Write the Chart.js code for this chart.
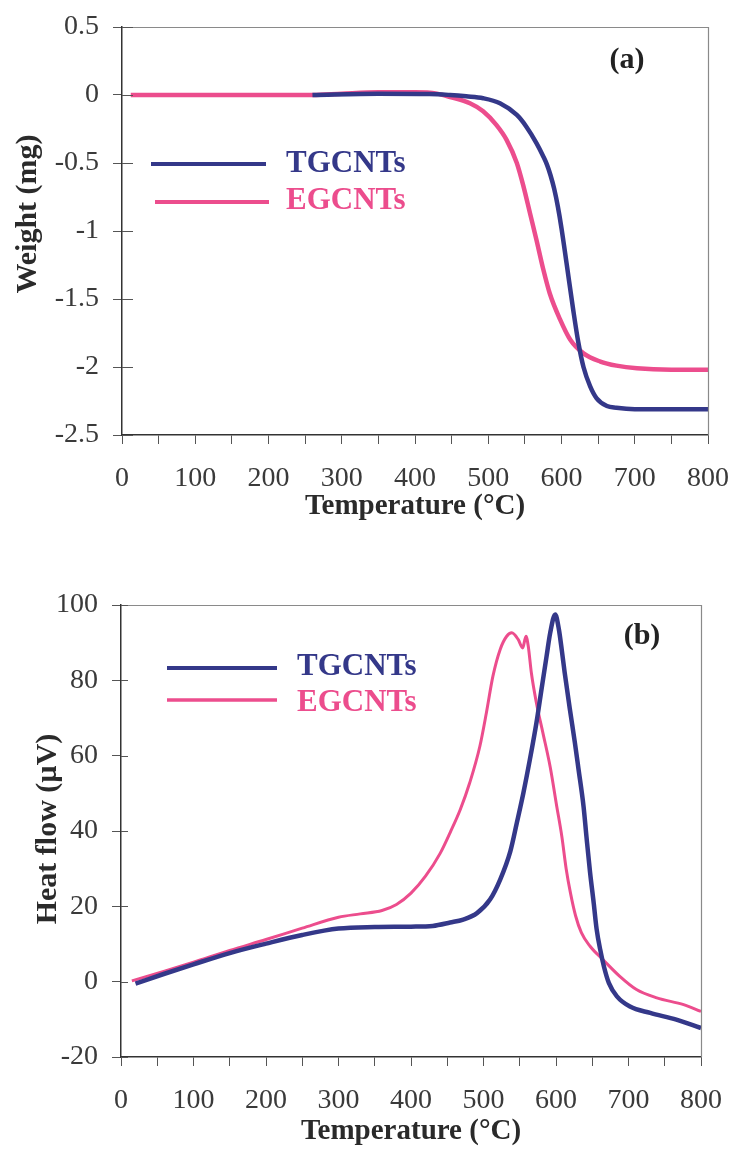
<!DOCTYPE html>
<html>
<head>
<meta charset="utf-8">
<script src="https://cdn.jsdelivr.net/npm/chart.js@4.4.1/dist/chart.umd.min.js"></script>
<style>
  html, body { margin: 0; padding: 0; background: #ffffff; }
  #wrap { position: relative; width: 734px; height: 1149px; background: #fff; }
  canvas { position: absolute; left: 0; }
  #cA { top: 0; }
  #cB { top: 545px; }
</style>
</head>
<body>
<div id="wrap">
  <canvas id="cA" width="734" height="545"></canvas>
  <canvas id="cB" width="734" height="604"></canvas>
</div>
<script>
// ---------------- DATA ----------------
const seriesNames = ["TGCNTs", "EGCNTs"];
const xTickLabels = [0, 100, 200, 300, 400, 500, 600, 700, 800];
const weightTicks = [0.5, 0, -0.5, -1, -1.5, -2, -2.5];
const heatTicks = [100, 80, 60, 40, 20, 0, -20];

// (a) TGA weight (mg) vs temperature (°C)
const tgTempA   = [260, 350, 420, 448, 470, 493, 516, 539, 552, 566, 575, 580, 585, 590, 595, 600, 607, 616, 623, 630, 639, 648, 662, 675, 700, 750, 800];
const tgWeightA = [0, 0.01, 0.008, 0, -0.01, -0.024, -0.061, -0.147, -0.233, -0.355, -0.45, -0.51, -0.59, -0.69, -0.82, -0.98, -1.24, -1.58, -1.82, -2.0, -2.14, -2.23, -2.287, -2.30, -2.31, -2.31, -2.31];
const egTempA   = [12, 100, 200, 260, 300, 350, 400, 430, 448, 475, 493, 511, 525, 539, 548, 557, 566, 575, 584, 598, 612, 630, 653, 675, 703, 750, 800];
const egWeightA = [0, 0, 0, 0, 0.01, 0.02, 0.02, 0.01, -0.015, -0.061, -0.12, -0.22, -0.33, -0.50, -0.67, -0.87, -1.07, -1.28, -1.46, -1.65, -1.80, -1.90, -1.96, -1.99, -2.01, -2.02, -2.02];

// (b) DTA heat flow (µV) vs temperature (°C)
const tgTempB = [20, 60, 100, 150, 200, 250, 300, 350, 400, 430, 454, 472, 491, 509, 523, 537, 546, 555, 564, 573, 580, 587, 592, 599, 604, 608, 612, 619, 626, 631, 638, 642, 647, 652, 656, 661, 666, 673, 684, 702, 730, 766, 800];
const tgHeatB = [-0.5, 2.1, 4.6, 7.6, 10.1, 12.4, 14.1, 14.5, 14.6, 14.8, 15.7, 16.5, 18.2, 21.8, 27.1, 34.6, 42.2, 50.1, 59, 68.7, 77.6, 86.4, 92.6, 97.5, 93.5, 88, 82, 72.5, 63.5, 56.5, 46.5, 38.5, 29, 20.9, 14, 8.5, 4.1, -0.4, -3.9, -6.6, -8.3, -10.1, -12.3];
const egTempB = [15, 60, 100, 150, 200, 250, 300, 330, 360, 380, 400, 420, 440, 454, 468, 481, 495, 504, 513, 523, 532, 539, 548, 554, 558.6, 561.8, 566, 573, 582, 592, 601, 608, 614, 620, 627, 635, 647, 665, 688, 711, 739, 776, 800];
const egHeatB = [0.2, 2.8, 5.2, 8.3, 11.2, 14.2, 17.1, 18.0, 18.9, 20.5, 23.5, 28, 34, 39.6, 45.7, 52.8, 62.5, 71.4, 81.1, 88.2, 91.7, 92.6, 90.8, 88.6, 91.7, 89, 82, 74, 66, 57, 46.6, 38.6, 30, 23.5, 17.5, 13, 9.4, 5.8, 1.4, -2.1, -4.3, -6.1, -7.9];

// ---------------- STYLE ----------------
const BLUE = '#343889';
const PINK = '#ec4d8d';
const SERIF = "'Liberation Serif', 'Times New Roman', serif";
const TICK_COLOR = '#3a3a3a';

function pts(xs, ys) { return xs.map((x, i) => ({ x: x, y: ys[i] })); }

const decorPlugin = {
  id: 'decor',
  afterDraw(chart, args, opts) {
    const ctx = chart.ctx;
    const ca = chart.chartArea;
    ctx.save();
    // top and right frame lines
    ctx.strokeStyle = '#8a8a8a';
    ctx.lineWidth = 1.2;
    ctx.beginPath();
    ctx.moveTo(ca.left, ca.top + 0.5);
    ctx.lineTo(ca.right + 0.5, ca.top + 0.5);
    ctx.lineTo(ca.right + 0.5, ca.bottom);
    ctx.stroke();
    // inward part of y ticks
    const ys = chart.scales.y;
    ctx.strokeStyle = '#555';
    ctx.lineWidth = 1;
    ys.ticks.forEach(t => {
      const py = Math.round(ys.getPixelForValue(t.value)) + 0.5;
      ctx.beginPath();
      ctx.moveTo(ca.left, py);
      ctx.lineTo(ca.left + opts.inTick, py);
      ctx.stroke();
    });
    // y axis title (rotated)
    ctx.save();
    ctx.translate(opts.yTitle.x, opts.yTitle.y);
    ctx.rotate(-Math.PI / 2);
    ctx.fillStyle = '#2a2a2a';
    ctx.font = 'bold 30px ' + SERIF;
    ctx.textAlign = 'center';
    ctx.textBaseline = 'middle';
    ctx.fillText(opts.yTitle.text, 0, 0);
    ctx.restore();
    // legend
    const ds = chart.data.datasets;
    opts.legend.forEach((L, i) => {
      const d = ds[i];
      ctx.strokeStyle = d.borderColor;
      ctx.lineWidth = L.w;
      ctx.beginPath();
      ctx.moveTo(L.x1, L.y);
      ctx.lineTo(L.x2, L.y);
      ctx.stroke();
      ctx.fillStyle = d.borderColor;
      ctx.font = 'bold 31px ' + SERIF;
      ctx.textBaseline = 'middle';
      ctx.textAlign = 'left';
      ctx.fillText(d.label, L.tx, L.ty);
    });
    // panel tag
    ctx.fillStyle = '#222';
    ctx.font = 'bold 30px ' + SERIF;
    ctx.textAlign = 'center';
    ctx.textBaseline = 'middle';
    ctx.fillText(opts.tag.text, opts.tag.x, opts.tag.y);
    ctx.restore();
  }
};

function makeChart(id, cfg) {
  const xs = {
    type: 'linear', min: 0, max: 800,
    grid: { display: true, drawOnChartArea: false, drawTicks: true, tickLength: 9, color: '#555', lineWidth: 1 },
    border: { display: true, color: '#333', width: 1.5 },
    ticks: {
      stepSize: 50, autoSkip: false, maxRotation: 0, padding: cfg.xTickPad,
      color: TICK_COLOR, font: { family: SERIF, size: 28 },
      callback: (v) => (xTickLabels.includes(v) ? String(v) : '')
    },
    title: { display: true, text: 'Temperature (°C)', color: '#2a2a2a',
      font: { family: SERIF, size: 29, weight: 'bold' }, padding: { top: 0, bottom: cfg.xTitlePad } },
    afterFit: (s) => { s.height = cfg.xH; s.paddingRight = 0; s.paddingLeft = 0; }
  };
  const ysc = {
    type: 'linear', min: cfg.yMin, max: cfg.yMax,
    grid: { display: true, drawOnChartArea: false, drawTicks: true, tickLength: 9, color: '#555', lineWidth: 1 },
    border: { display: true, color: '#333', width: 1.5 },
    ticks: {
      stepSize: cfg.yStep, padding: 14, color: TICK_COLOR, font: { family: SERIF, size: 28 },
      callback: (v) => (cfg.yTicks.some(t => Math.abs(t - v) < 1e-9) ? String(+v.toFixed(2)) : '')
    },
    title: { display: false },
    afterFit: (s) => { s.width = cfg.yW; s.paddingTop = 0; s.paddingBottom = 0; }
  };
  return new Chart(document.getElementById(id), {
    type: 'line',
    data: {
      datasets: [
        { label: seriesNames[0], data: pts(cfg.tgX, cfg.tgY), borderColor: BLUE, backgroundColor: BLUE,
          borderWidth: cfg.bwBlue, pointRadius: 0, cubicInterpolationMode: 'monotone', fill: false },
        { label: seriesNames[1], data: pts(cfg.egX, cfg.egY), borderColor: PINK, backgroundColor: PINK,
          borderWidth: cfg.bwPink, pointRadius: 0, cubicInterpolationMode: 'monotone', fill: false }
      ]
    },
    options: {
      responsive: false, animation: false, devicePixelRatio: 1,
      layout: { padding: { left: 0, right: cfg.padR, top: cfg.padT, bottom: 0 } },
      scales: { x: xs, y: ysc },
      plugins: {
        legend: { display: false }, tooltip: { enabled: false },
        decor: { inTick: cfg.inTick, legend: cfg.legend, tag: cfg.tag, yTitle: cfg.yTitle }
      }
    },
    plugins: [decorPlugin]
  });
}

// (a)
makeChart('cA', {
  tgX: tgTempA, tgY: tgWeightA, egX: egTempA, egY: egWeightA,
  yMin: -2.5, yMax: 0.5, yStep: 0.5, yTicks: weightTicks,
  yTitle: { text: 'Weight (mg)', x: 28, y: 214 },
  yW: 122, xH: 110, padR: 26, padT: 27, xTickPad: 18, xTitlePad: 21,
  bwBlue: 4.5, bwPink: 4.5, inTick: 11,
  legend: [ { x1: 151, x2: 266, y: 164, tx: 286, ty: 164, w: 4 },
            { x1: 155, x2: 269, y: 202, tx: 286, ty: 201, w: 4 } ],
  tag: { text: '(a)', x: 627, y: 60 }
});

// (b)
makeChart('cB', {
  tgX: tgTempB, tgY: tgHeatB, egX: egTempB, egY: egHeatB,
  yMin: -20, yMax: 100, yStep: 20, yTicks: heatTicks,
  yTitle: { text: 'Heat flow (µV)', x: 48, y: 284 },
  yW: 121, xH: 92, padR: 33, padT: 60, xTickPad: 18, xTitlePad: 0,
  bwBlue: 4.5, bwPink: 3, inTick: 7,
  legend: [ { x1: 167, x2: 277, y: 123, tx: 297, ty: 122, w: 4 },
            { x1: 167, x2: 277, y: 155, tx: 297, ty: 158, w: 3.5 } ],
  tag: { text: '(b)', x: 642, y: 91 }
});
</script>
</body>
</html>
